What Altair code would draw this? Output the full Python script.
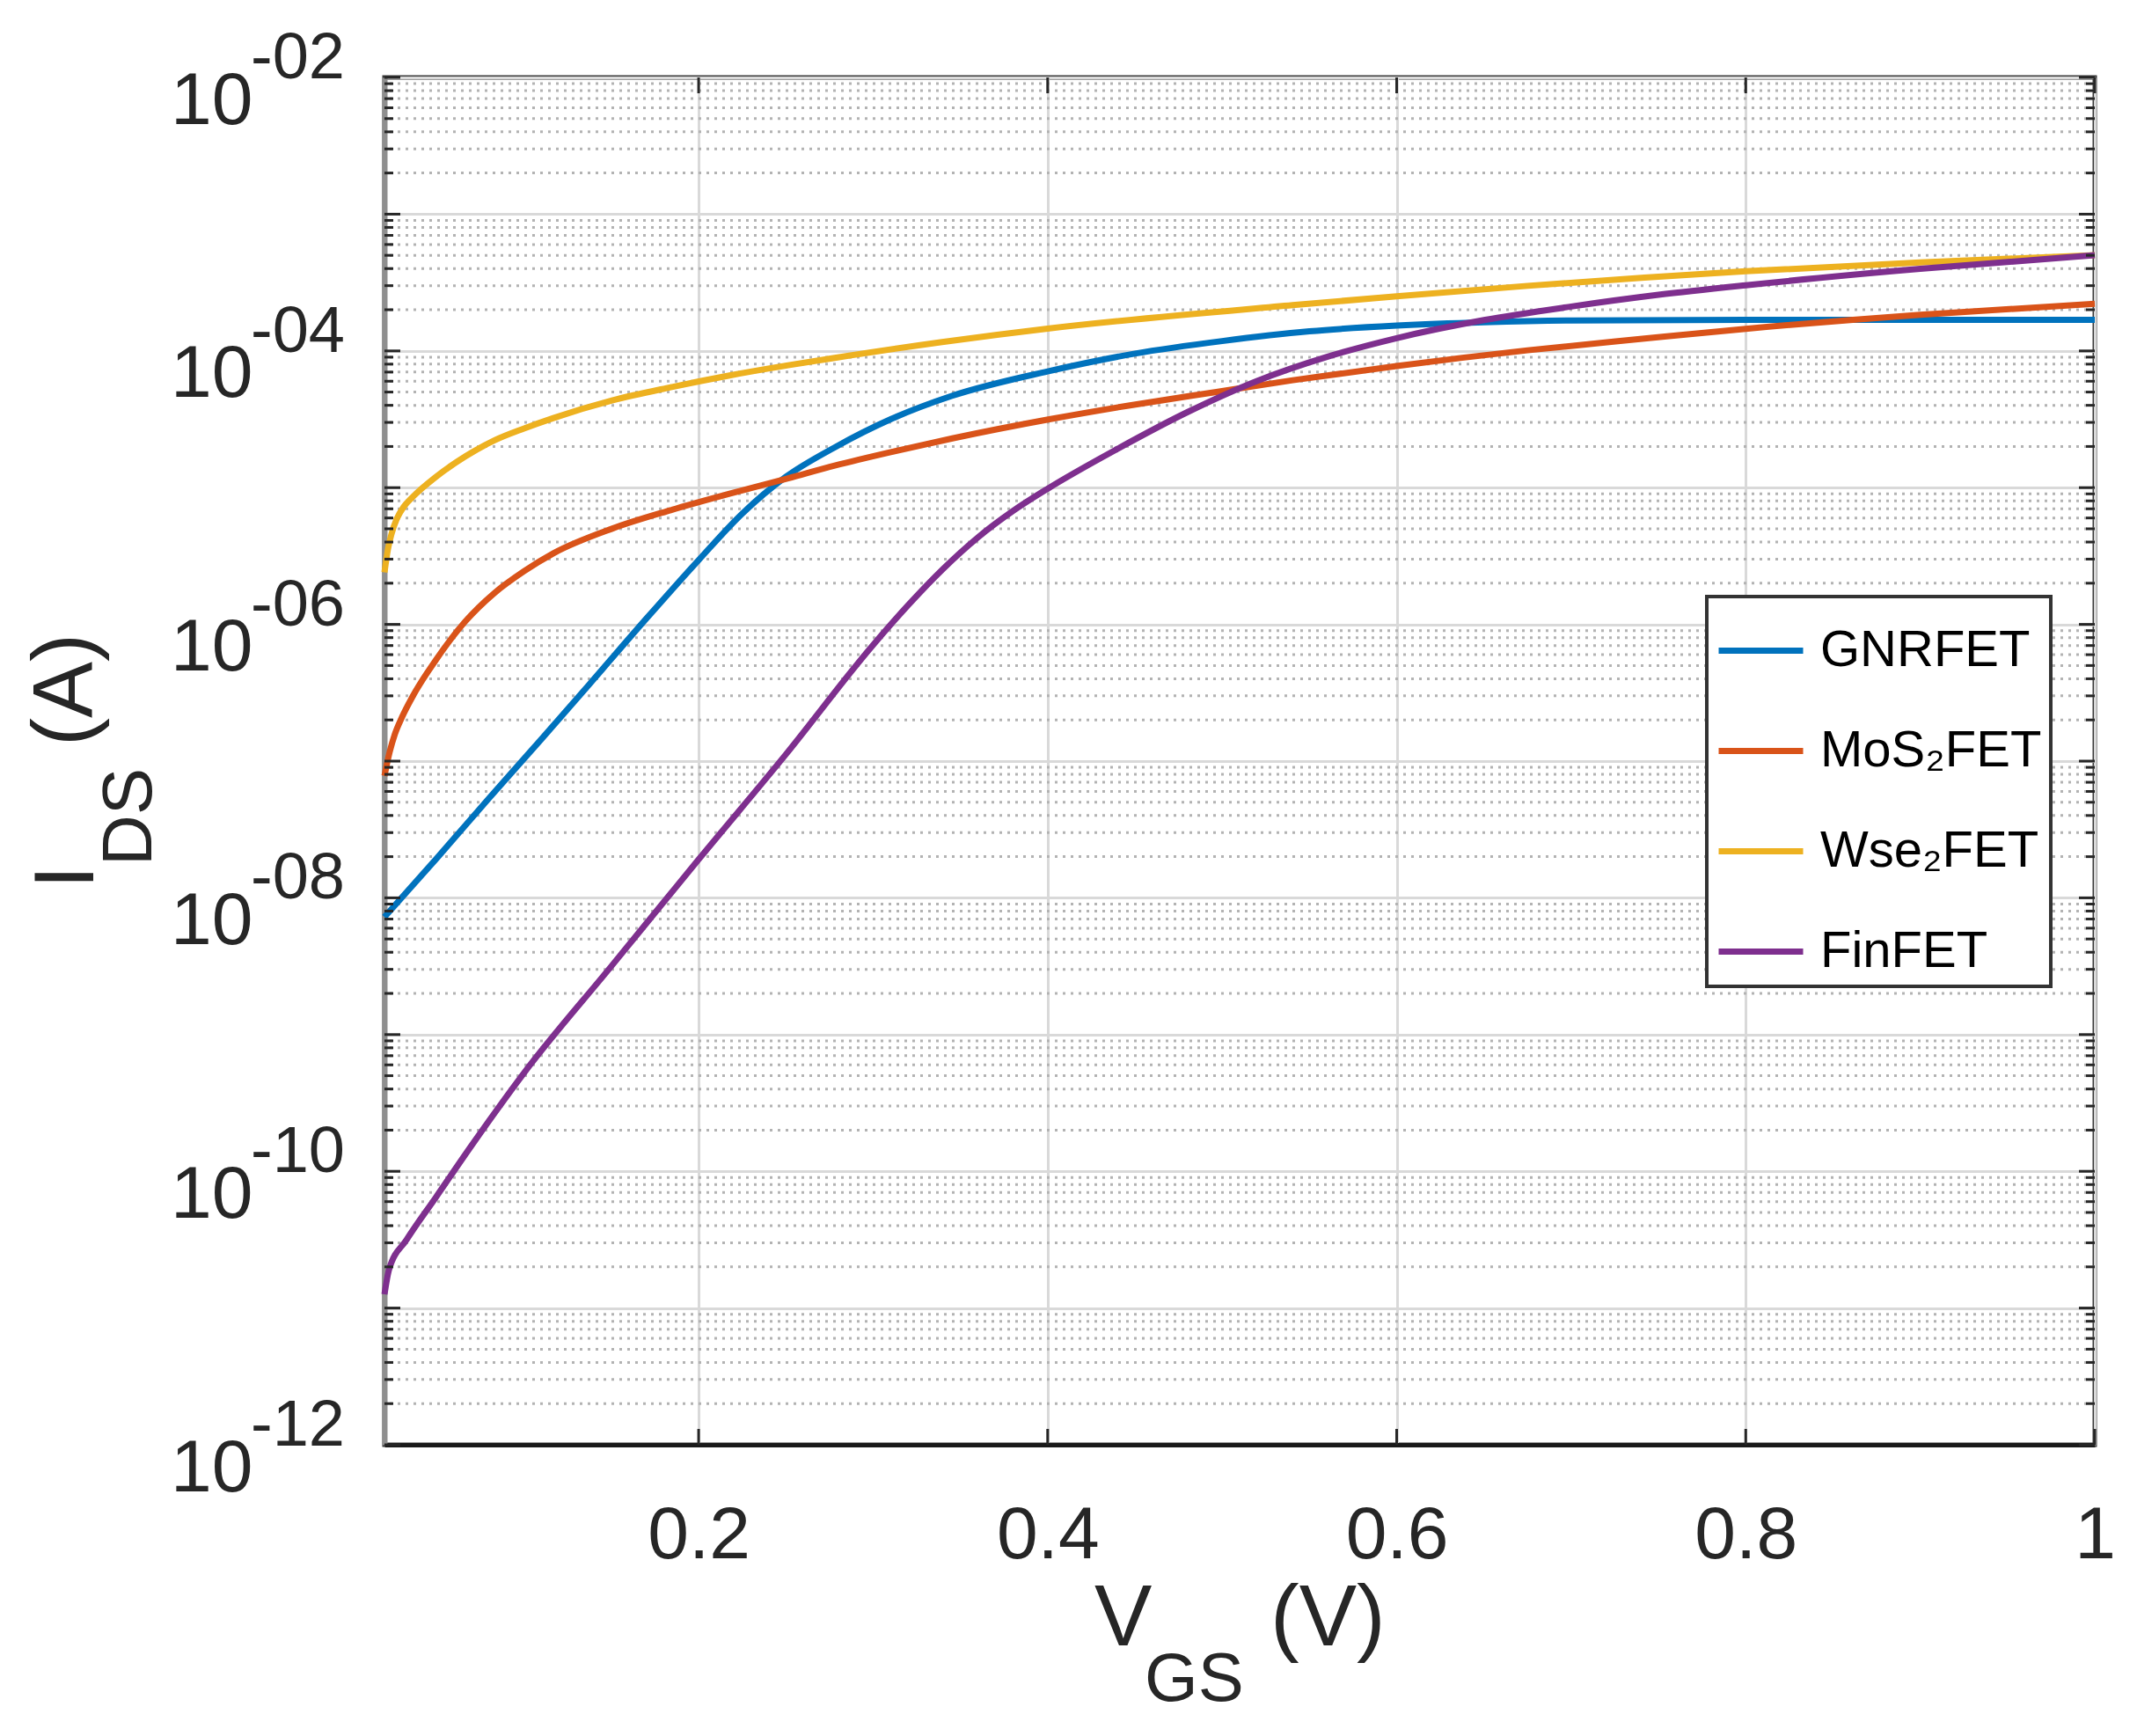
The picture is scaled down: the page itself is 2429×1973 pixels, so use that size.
import altair as alt
import pandas as pd

# ---------------- data ----------------
names = ["GNRFET", "MoS₂FET", "Wse₂FET", "FinFET"]
colors = ["#0072BD", "#D95319", "#EDB120", "#7E2F8E"]

gnr_v = [0.02, 0.05, 0.08, 0.11, 0.14, 0.17, 0.2, 0.225, 0.25, 0.278, 0.31,
         0.345, 0.40, 0.45, 0.50, 0.55, 0.60, 0.65, 0.70, 0.80, 1.0]
gnr_i = [7.24e-9, 1.95e-8, 5.37e-8, 1.45e-7, 3.98e-7, 1.10e-6, 2.95e-6, 6.46e-6, 1.20e-5, 1.97e-5, 3.16e-5,
         4.68e-5, 7.08e-5, 9.55e-5, 1.18e-4, 1.39e-4, 1.53e-4, 1.62e-4, 1.67e-4, 1.69e-4, 1.69e-4]

mos_v = [0.02, 0.023, 0.026, 0.03, 0.036, 0.0495, 0.0663, 0.0831, 0.1, 0.1168, 0.1504, 0.184,
         0.2177, 0.2513, 0.278, 0.3118, 0.3454, 0.401, 0.4463, 0.4967, 0.5405, 0.6, 0.675,
         0.742, 0.8, 0.9, 1.0]
mos_i = [7.80e-8, 1.17e-7, 1.58e-7, 2.09e-7, 2.95e-7, 5.50e-7, 1.05e-6, 1.70e-6, 2.45e-6, 3.31e-6, 5.01e-6, 6.84e-6,
         9.02e-6, 1.17e-5, 1.45e-5, 1.84e-5, 2.29e-5, 3.16e-5, 3.98e-5, 5.01e-5, 6.10e-5, 7.76e-5, 1.01e-4,
         1.23e-4, 1.45e-4, 1.84e-4, 2.21e-4]

wse_v = [0.02, 0.022, 0.024, 0.027, 0.031, 0.036, 0.0495, 0.0663, 0.0831, 0.1, 0.1168, 0.1504,
         0.184, 0.2177, 0.2513, 0.278, 0.3395, 0.401, 0.5404, 0.6, 0.675, 0.742, 0.8, 0.9, 1.0]
wse_i = [2.40e-6, 3.55e-6, 4.57e-6, 5.89e-6, 7.24e-6, 8.51e-6, 1.20e-5, 1.69e-5, 2.22e-5, 2.71e-5, 3.23e-5, 4.34e-5,
         5.42e-5, 6.61e-5, 7.85e-5, 8.89e-5, 1.16e-4, 1.46e-4, 2.16e-4, 2.51e-4, 2.99e-4, 3.43e-4, 3.82e-4,
         4.44e-4, 5.01e-4]

fin_v = [0.02, 0.0226, 0.0327, 0.0495, 0.07, 0.1, 0.15, 0.2, 0.25, 0.30, 0.32, 0.34, 0.36, 0.38,
         0.40, 0.44, 0.48, 0.52, 0.56, 0.60, 0.65, 0.70, 0.75, 0.80, 0.90, 1.0]
fin_i = [1.26e-11, 1.91e-11, 3.16e-11, 6.46e-11, 1.55e-10, 5.25e-10, 3.16e-9, 1.91e-8, 1.12e-7, 7.08e-7,
         1.38e-6, 2.54e-6, 4.32e-6, 6.73e-6, 9.82e-6, 1.92e-5, 3.56e-5, 6.03e-5, 9.04e-5, 1.24e-4,
         1.68e-4, 2.11e-4, 2.57e-4, 3.02e-4, 3.98e-4, 5.01e-4]

x_ticks = [0.2, 0.4, 0.6, 0.8, 1.0]
decades = [1e-12, 1e-11, 1e-10, 1e-9, 1e-8, 1e-7, 1e-6, 1e-5, 1e-4, 1e-3, 1e-2]
label_decades = [1e-12, 1e-10, 1e-8, 1e-6, 1e-4, 1e-2]
exp_labels = ["-12", "-10", "-08", "-06", "-04", "-02"]
minor_mult = [2, 3, 4, 5, 6, 7, 8, 9]

# ---------------- tables ----------------
rows = []
for name, vs, cs in zip(names, [gnr_v, mos_v, wse_v, fin_v], [gnr_i, mos_i, wse_i, fin_i]):
    for v, c in zip(vs, cs):
        rows.append({"device": name, "VGS": v, "IDS": c})
df = pd.DataFrame(rows)

minor_vals = [m * d for d in decades[:-1] for m in minor_mult]
major_df = pd.DataFrame({"IDS": decades})
minor_df = pd.DataFrame({"IDS": minor_vals})
exp_df = pd.DataFrame({"IDS": label_decades, "lab": exp_labels})
xt_df = pd.DataFrame({"VGS": x_ticks})

W, H = 1944, 1554
FONT = "Liberation Sans"
TXT = "#262626"

xscale = alt.Scale(domain=[0.02, 1.0], nice=False, zero=False)
yscale = alt.Scale(type="log", domain=[1e-12, 1e-2], nice=False)

xaxis = alt.Axis(
    values=x_ticks, title=None, grid=True, gridColor="#d9d9d9", gridWidth=3,
    ticks=False, domainColor="#1a1a1a", domainWidth=5,
    labelFontSize=84, labelPadding=62, labelColor=TXT, labelFont=FONT,
    labelBaseline="top", labelFlush=False, labelOverlap=False,
    labelExpr="datum.value == 1 ? '1' : format(datum.value, '.1f')")
yaxis = alt.Axis(
    values=decades, title=None, grid=True, gridColor="#d9d9d9", gridWidth=3,
    ticks=False, domainColor="#8f8f8f", domainWidth=6,
    labelExpr="abs(round(log(datum.value)/LN10)) % 2 == 0 ? '10' : ''",
    labelFontSize=84, labelAlign="right", labelBaseline="alphabetic",
    labelPadding=150, labelOffset=52, labelColor=TXT, labelFont=FONT,
    labelOverlap=False, labelFlush=False)

X = alt.X("VGS:Q", scale=xscale, axis=xaxis)
Y = alt.Y("IDS:Q", scale=yscale, axis=yaxis)

lines = alt.Chart(df).mark_line(strokeWidth=7, interpolate="monotone").encode(
    x=X, y=Y,
    color=alt.Color("device:N", scale=alt.Scale(domain=names, range=colors),
                    legend=alt.Legend(
                        orient="none", legendX=1503, legendY=590, title=None,
                        symbolType="stroke", symbolSize=9216, symbolStrokeWidth=7,
                        labelFontSize=58, labelFont=FONT, labelColor="#000000",
                        labelOffset=16, rowPadding=33, padding=10,
                        fillColor="#ffffff", strokeColor="#333333", labelLimit=0)),
)

minor_grid = alt.Chart(minor_df).mark_rule(color="#b3b3b3", strokeWidth=3, strokeDash=[3, 6]).encode(y=Y)

tick_col = "#262626"
maj_l = alt.Chart(major_df).mark_rule(color=tick_col, strokeWidth=3).encode(
    y=Y, x=alt.value(0), x2=alt.value(18))
maj_r = alt.Chart(major_df).mark_rule(color=tick_col, strokeWidth=3).encode(
    y=Y, x=alt.value(W), x2=alt.value(W - 18))
min_l = alt.Chart(minor_df).mark_rule(color=tick_col, strokeWidth=3).encode(
    y=Y, x=alt.value(0), x2=alt.value(10))
min_r = alt.Chart(minor_df).mark_rule(color=tick_col, strokeWidth=3).encode(
    y=Y, x=alt.value(W), x2=alt.value(W - 10))
xt_b = alt.Chart(xt_df).mark_rule(color=tick_col, strokeWidth=3).encode(
    x=X, y=alt.value(H), y2=alt.value(H - 18))
xt_t = alt.Chart(xt_df).mark_rule(color=tick_col, strokeWidth=3).encode(
    x=X, y=alt.value(0), y2=alt.value(18))

exps = alt.Chart(exp_df).mark_text(
    align="right", baseline="alphabetic", fontSize=74, font=FONT, color=TXT, dy=1).encode(
    y=Y, x=alt.value(-45), text="lab:N")


def label(txt, px, py, size, angle=0):
    return alt.Chart(pd.DataFrame({"t": [txt]})).mark_text(
        align="left", baseline="alphabetic", fontSize=size, font=FONT, color=TXT,
        angle=angle).encode(x=alt.value(px), y=alt.value(py), text="t:N")


titles = [
    label("V", 807, 1782, 98),
    label("GS", 864, 1845, 78),
    label("(V)", 1007, 1782, 98),
    label("I", -331, 922, 96, 270),
    label("DS", -265, 896, 80, 270),
    label("(A)", -333, 760, 96, 270),
]

chart = alt.layer(
    minor_grid, lines, maj_l, maj_r, min_l, min_r, xt_b, xt_t, exps, *titles
).properties(
    width=W, height=H,
    autosize=alt.AutoSizeParams(type="none"),
    padding={"left": 429, "top": 80, "right": 40, "bottom": 323},
    background="#ffffff",
).configure(font=FONT).configure_view(stroke="#3a3a3a", strokeWidth=5
).configure_legend(strokeWidth=4)

chart.save("out.html", embed_options={"renderer": "svg", "actions": False})
